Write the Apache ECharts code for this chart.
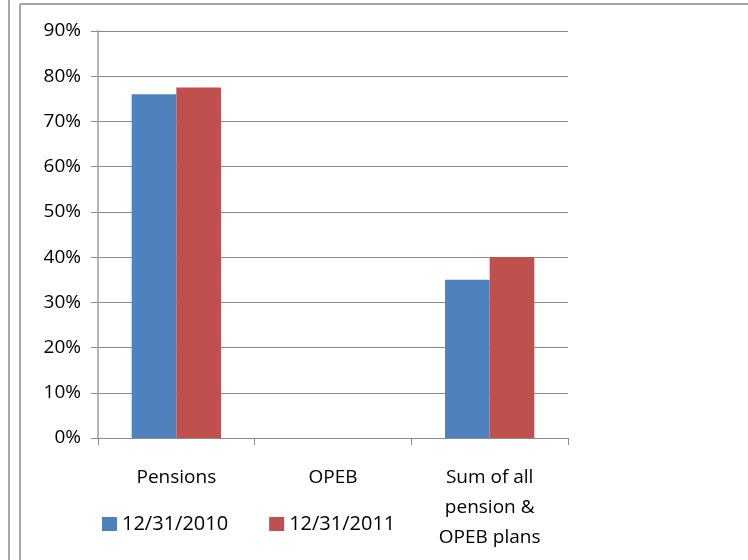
<!DOCTYPE html>
<html style="height: 100%">
<head>
    <meta charset="utf-8">
    <title>Funded ratio</title>
    <script src="https://cdn.jsdelivr.net/npm/echarts@6/dist/echarts.min.js"></script>
</head>
<body style="height: 100%; margin: 0; background: #fff">
    <div id="chart" style="width: 748px; height: 560px;"></div>

    <script type="text/javascript">
    var categories = ['Pensions', 'OPEB', 'Sum of all\npension &\nOPEB plans'];
    var seriesNames = ['12/31/2010', '12/31/2011'];
    var values2010 = [76, 0, 35];
    var values2011 = [77.5, 0, 40];
    var yTicks = [0, 10, 20, 30, 40, 50, 60, 70, 80, 90];

    var fontFamily = '"Open Sans", "Liberation Sans", sans-serif';
    var gray = '#8a8a8a';

    var option = {
        backgroundColor: '#fff',
        animation: false,
        color: ['#4F81BD', '#C0504D'],
        textStyle: { fontFamily: fontFamily },
        grid: {
            left: 98,
            right: 180,
            top: 31,
            bottom: 122
        },
        legend: {
            data: seriesNames,
            left: 97,
            top: 509,
            itemWidth: 15,
            itemHeight: 14,
            itemGap: 41,
            icon: 'rect',
            textStyle: {
                fontSize: 20,
                color: '#000',
                fontFamily: fontFamily
            }
        },
        xAxis: {
            type: 'category',
            data: categories,
            axisLine: { lineStyle: { color: gray, width: 1 } },
            axisTick: { show: true, length: 7, lineStyle: { color: gray } },
            axisLabel: {
                color: '#000',
                fontSize: 19,
                margin: 25,
                lineHeight: 30,
                align: 'center'
            }
        },
        yAxis: {
            type: 'value',
            min: yTicks[0],
            max: yTicks[yTicks.length - 1],
            interval: 10,
            axisLine: { show: true, lineStyle: { color: '#b4b4b4', width: 2 } },
            axisTick: { show: true, length: 7, lineStyle: { color: gray } },
            splitLine: { lineStyle: { color: gray, width: 1 } },
            axisLabel: {
                color: '#000',
                fontSize: 19,
                margin: 17,
                formatter: '{value}%'
            }
        },
        series: [
            {
                name: seriesNames[0],
                type: 'bar',
                data: values2010,
                barGap: '0%',
                barCategoryGap: '43%'
            },
            {
                name: seriesNames[1],
                type: 'bar',
                data: values2011,
                barGap: '0%',
                barCategoryGap: '43%'
            }
        ],
        graphic: [
            { type: 'line', shape: { x1: 9, y1: 0, x2: 9, y2: 560 }, style: { stroke: gray, lineWidth: 1.5 } },
            { type: 'line', shape: { x1: 20, y1: 4, x2: 20, y2: 560 }, style: { stroke: gray, lineWidth: 1.5 } },
            { type: 'line', shape: { x1: 20, y1: 4, x2: 748, y2: 4 }, style: { stroke: gray, lineWidth: 1.5 } }
        ]
    };

    var myChart = echarts.init(document.getElementById('chart'));
    myChart.setOption(option);
    </script>
</body>
</html>
